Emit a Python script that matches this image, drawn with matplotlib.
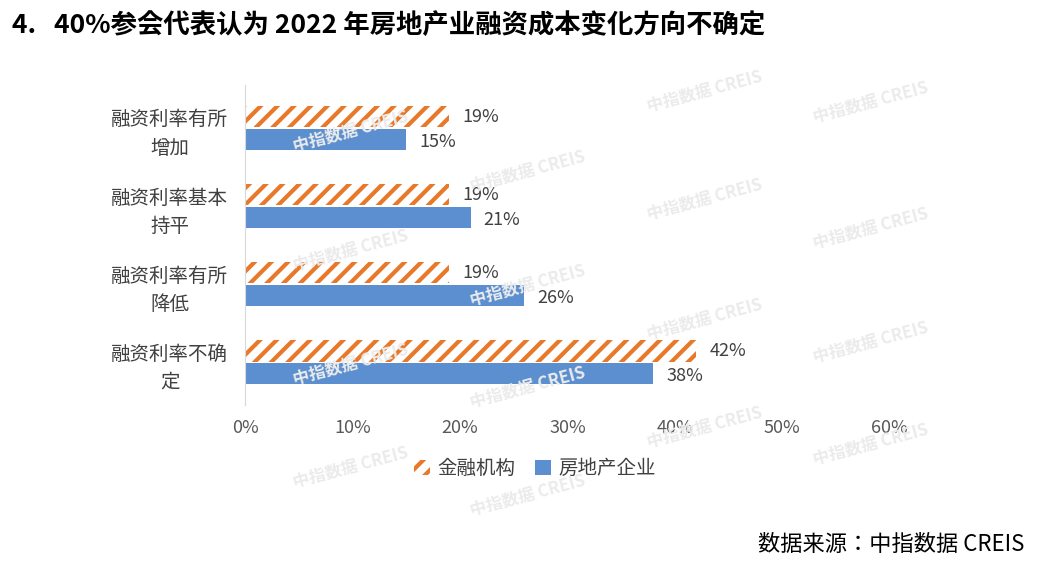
import matplotlib.pyplot as plt
import matplotlib as mpl
from matplotlib import font_manager
import numpy as np

cjk = [f.name for f in font_manager.fontManager.ttflist if 'CJK' in f.name]
cjk_name = 'Noto Sans CJK SC' if 'Noto Sans CJK SC' in cjk else (cjk[0] if cjk else 'DejaVu Sans')
plt.rcParams['font.family'] = [cjk_name, 'DejaVu Sans']
mpl.rcParams['hatch.linewidth'] = 3.0

categories = ['融资利率有所\n增加', '融资利率基本\n持平', '融资利率有所\n降低', '融资利率不确\n定']
financial = [19, 19, 19, 42]
developers = [15, 21, 26, 38]
series_names = ['金融机构', '房地产企业']
ticks = [0, 10, 20, 30, 40, 50, 60]

orange = '#E8792B'
blue = '#5B8FD0'

fig = plt.figure(figsize=(10.4, 5.7), dpi=100)
ax = fig.add_axes([0.2356, 0.289, 0.62, 0.562])
ax.patch.set_alpha(0)

y = np.arange(len(categories))
h = 0.27
b1 = ax.barh(y - h / 2 - 0.01, financial, height=h, color='white', edgecolor=orange,
             hatch='//', linewidth=0, label=series_names[0])
b2 = ax.barh(y + h / 2 + 0.01, developers, height=h, color=blue, label=series_names[1])

for rect, v in zip(b1, financial):
    ax.text(v + 1.2, rect.get_y() + rect.get_height() / 2, f'{v}%', va='center', ha='left',
            fontsize=13, color='#404040')
for rect, v in zip(b2, developers):
    ax.text(v + 1.2, rect.get_y() + rect.get_height() / 2 + 0.03, f'{v}%', va='center', ha='left',
            fontsize=13, color='#404040')

ax.set_ylim(3.55, -0.55)
ax.set_xlim(0, 60)
ax.set_yticks(y)
ax.set_yticklabels(categories, fontsize=14, color='#404040', linespacing=1.45,
                   multialignment='center')
ax.set_xticks(ticks)
ax.set_xticklabels([f'{t}%' for t in ticks], fontsize=13, color='#595959')
ax.tick_params(length=0, pad=10)
ax.tick_params(axis='y', pad=12)
for s in ['top', 'right', 'bottom']:
    ax.spines[s].set_visible(False)
ax.spines['left'].set_color('#d9d9d9')

ax.legend(loc='upper center', bbox_to_anchor=(0.45, -0.11), ncol=2, frameon=False,
          fontsize=14, handlelength=0.8, handleheight=0.8, columnspacing=1.0,
          handletextpad=0.4, labelcolor='#404040')

fig.text(0.012, 0.955, '4.   40%参会代表认为 2022 年房地产业融资成本变化方向不确定',
         fontsize=19, fontweight='bold', va='center', color='black')
fig.text(0.985, 0.045, '数据来源：中指数据 CREIS', fontsize=16, ha='right', va='center')

# watermarks
for (wx, wy) in [(0.28, 0.77), (0.45, 0.70), (0.62, 0.84), (0.78, 0.82),
                 (0.28, 0.56), (0.45, 0.50), (0.62, 0.65), (0.78, 0.60),
                 (0.28, 0.36), (0.45, 0.32), (0.62, 0.44), (0.78, 0.40),
                 (0.28, 0.18), (0.45, 0.13), (0.62, 0.25), (0.78, 0.22)]:
    fig.text(wx, wy, '中指数据 CREIS', fontsize=12, fontweight='bold', color='#ebebeb',
             rotation=15, ha='left', va='center', zorder=0)

fig.savefig('out.png', dpi=100)
